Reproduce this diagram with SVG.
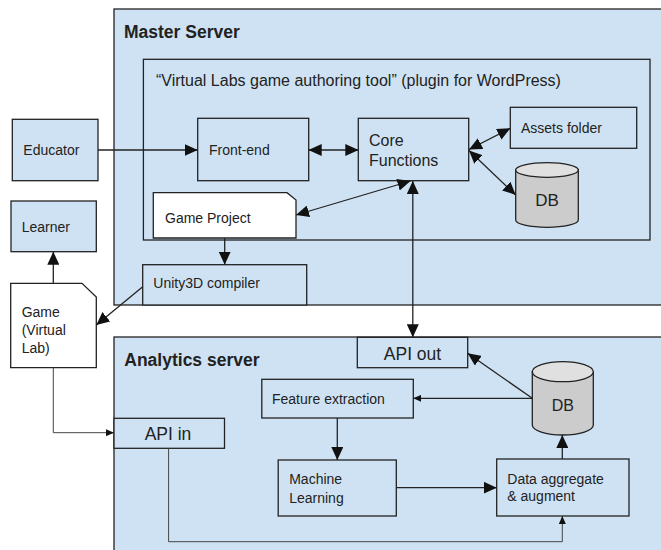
<svg xmlns="http://www.w3.org/2000/svg" width="661" height="550" viewBox="0 0 661 550">
<style>
text{font-family:"Liberation Sans",Arial,sans-serif;fill:#222;font-size:14px}
.box{fill:#cfe2f3;stroke:#222;stroke-width:1.3}
.doc{fill:#fff;stroke:#222;stroke-width:1.3}
.title{font-weight:bold;font-size:17.5px}
.big{font-size:17.5px}
.ln{fill:none;stroke:#222;stroke-width:1.3}
.thin{fill:none;stroke:#444;stroke-width:1}
.dbbody{fill:#cccccc;stroke:#222;stroke-width:1.3}
.dbtop{fill:#e0e0e0;stroke:#222;stroke-width:1.3}
</style>
<defs>
<marker id="ab" viewBox="0 0 13 12" refX="13" refY="6" markerWidth="13" markerHeight="12" markerUnits="userSpaceOnUse" orient="auto-start-reverse"><path d="M0,0 L13,6 L0,12 z" fill="#111"/></marker>
<marker id="as" viewBox="0 0 8 7" refX="8" refY="3.5" markerWidth="8" markerHeight="7" markerUnits="userSpaceOnUse" orient="auto-start-reverse"><path d="M0,0 L8,3.5 L0,7 z" fill="#111"/></marker>
</defs>
<rect width="661" height="550" fill="#fff"/>
<g id="master-server">
<rect class="box" x="114" y="9" width="560" height="296"/>
<text class="title" x="124" y="38">Master Server</text>
</g>
<g id="analytics-server">
<rect class="box" x="114" y="337" width="560" height="230"/>
<text class="title" x="124.3" y="365.5">Analytics server</text>
</g>
<g id="plugin">
<rect class="box" x="143.4" y="59.3" width="506.6" height="180.7"/>
<text x="156" y="85.7" style="font-size:16px">“Virtual Labs game authoring tool” (plugin for WordPress)</text>
</g>
<g id="educator">
<rect class="box" x="12.3" y="119.3" width="85.7" height="61.4"/>
<text x="23.3" y="155">Educator</text>
</g>
<g id="learner">
<rect class="box" x="11" y="201" width="85.3" height="50.7"/>
<text x="21.7" y="231.7">Learner</text>
</g>
<g id="game">
<path class="doc" d="M10.7,283.3 H82 L96.3,297 V367.7 H10.7 Z"/>
<text x="21.7" y="316.7">Game</text>
<text x="21.7" y="335">(Virtual</text>
<text x="21.7" y="353.3">Lab)</text>
</g>
<g id="front-end">
<rect class="box" x="197.7" y="118.3" width="111" height="62.4"/>
<text x="209" y="155">Front-end</text>
</g>
<g id="core-functions">
<rect class="box" x="358.3" y="118.3" width="110.4" height="62.4"/>
<text x="369" y="146.3" style="font-size:16px">Core</text>
<text x="369" y="165.7" style="font-size:16px">Functions</text>
</g>
<g id="assets-folder">
<rect class="box" x="510.3" y="107.3" width="126.4" height="41"/>
<text x="521" y="133.3">Assets folder</text>
</g>
<g id="db-master">
<path class="dbbody" d="M515.7,170 V220 A31.3,7.3 0 0 0 578.3,220 V170 Z"/>
<ellipse class="dbtop" cx="547" cy="170" rx="31.3" ry="7.3"/>
<text x="547" y="206" text-anchor="middle" style="font-size:17px">DB</text>
</g>
<g id="game-project">
<path class="doc" d="M153.3,192.7 H287 L296,200 V238 H153.3 Z"/>
<text x="165" y="223">Game Project</text>
</g>
<g id="unity-compiler">
<rect class="box" x="142.7" y="264.7" width="164" height="40.3"/>
<text x="153.3" y="288.3">Unity3D compiler</text>
</g>
<g id="api-out">
<rect class="box" x="357.3" y="337.3" width="110.4" height="30.4"/>
<text class="big" x="412.5" y="359.6" text-anchor="middle">API out</text>
</g>
<g id="api-in">
<rect class="box" x="114" y="418.3" width="110.5" height="30"/>
<text class="big" x="168" y="439.6" text-anchor="middle">API in</text>
</g>
<g id="feature-extraction">
<rect class="box" x="261.8" y="379.3" width="151.5" height="38.7"/>
<text x="272" y="404.3">Feature extraction</text>
</g>
<g id="machine-learning">
<rect class="box" x="278.2" y="460" width="118.1" height="56"/>
<text x="289.2" y="484.3">Machine</text>
<text x="289.2" y="502.7">Learning</text>
</g>
<g id="data-aggregate">
<rect class="box" x="496.7" y="459" width="132.3" height="57"/>
<text x="507.3" y="484">Data aggregate</text>
<text x="507.3" y="500.7">&amp; augment</text>
</g>
<g id="db-analytics">
<path class="dbbody" d="M532.3,371.7 V425 A30.5,10 0 0 0 593.3,425 V371.7 Z"/>
<ellipse class="dbtop" cx="562.8" cy="371.7" rx="30.5" ry="10"/>
<text x="562.8" y="410.6" text-anchor="middle" style="font-size:16px">DB</text>
</g>
<g id="connectors">
<line class="ln" x1="98" y1="150" x2="197.7" y2="150" marker-end="url(#ab)"/>
<line class="ln" x1="308.7" y1="150" x2="358.3" y2="150" marker-start="url(#ab)" marker-end="url(#ab)"/>
<line class="ln" x1="469" y1="149.5" x2="510.3" y2="128.3" marker-start="url(#ab)" marker-end="url(#ab)"/>
<line class="ln" x1="469" y1="150.5" x2="515.7" y2="195" marker-start="url(#ab)" marker-end="url(#ab)"/>
<line class="ln" x1="296" y1="215" x2="410.5" y2="181" marker-start="url(#ab)" marker-end="url(#ab)"/>
<line class="ln" x1="412.8" y1="181" x2="412.8" y2="337.3" marker-start="url(#ab)" marker-end="url(#ab)"/>
<line class="ln" x1="224.7" y1="238" x2="224.7" y2="264.7" marker-end="url(#ab)"/>
<line class="ln" x1="142.7" y1="286.7" x2="96.3" y2="325" marker-end="url(#ab)"/>
<line class="ln" x1="53.3" y1="283.3" x2="53.3" y2="251.7" marker-end="url(#ab)"/>
<polyline class="thin" points="53.3,367.7 53.3,432.7 114,432.7" marker-end="url(#as)"/>
<polyline class="thin" points="168.6,448.3 168.6,541.7 562.3,541.7 562.3,516" marker-end="url(#as)"/>
<line class="ln" x1="532.3" y1="398.3" x2="413.3" y2="398.3" marker-end="url(#as)"/>
<line class="ln" x1="532.3" y1="398.3" x2="467.7" y2="353.3" marker-end="url(#ab)"/>
<line class="ln" x1="337.3" y1="418" x2="337.3" y2="460" marker-end="url(#ab)"/>
<line class="ln" x1="396.3" y1="487.7" x2="496.7" y2="487.7" marker-end="url(#ab)"/>
<line class="ln" x1="562.3" y1="459" x2="562.3" y2="435" marker-end="url(#ab)"/>
</g>
</svg>
